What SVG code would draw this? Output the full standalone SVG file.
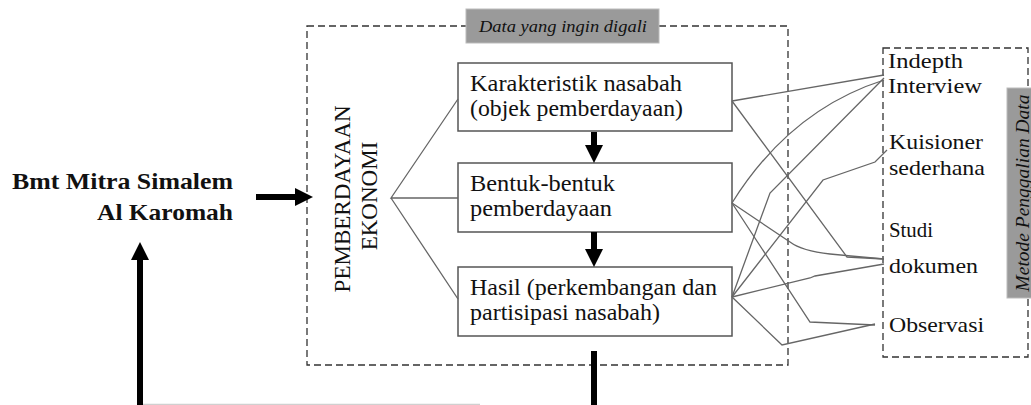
<svg xmlns="http://www.w3.org/2000/svg" width="1031" height="405" viewBox="0 0 1031 405">
<style>
  .t { font-family: 'Liberation Serif', 'Times New Roman', serif; fill: #111; }
  .r { font-size: 22px; }
  .bx { fill: #fff; stroke: #555; stroke-width: 1.5; }
  .dash { fill: none; stroke: #333; stroke-width: 1.3; stroke-dasharray: 7 4; }
  .thin { fill: none; stroke: #666; stroke-width: 1.3; }
  .thick { fill: none; stroke: #000; stroke-width: 6; }
  .gray { fill: #9a9a9a; stroke: #bbb; stroke-width: 1; }
</style>
<defs>
  <marker id="ah" viewBox="0 0 18 18" refX="1" refY="9" markerWidth="18" markerHeight="18" markerUnits="userSpaceOnUse" orient="auto">
    <path d="M0,0 L18,9 L0,18 z" fill="#000"/>
  </marker>
</defs>
<rect width="1031" height="405" fill="#fff"/>

<g id="frame-data">
  <rect class="dash" x="307" y="26" width="481" height="339"/>
  <rect class="gray" x="466" y="9" width="193" height="34"/>
  <text class="t" x="479" y="32" font-size="17" font-style="italic" textLength="168" lengthAdjust="spacingAndGlyphs">Data yang ingin digali</text>
</g>

<g id="frame-metode">
  <rect class="dash" x="883" y="48" width="145" height="309"/>
  <rect class="gray" x="1007" y="88" width="26" height="210"/>
  <text class="t" transform="translate(1029,193) rotate(-90)" text-anchor="middle" font-size="18" font-style="italic" textLength="197" lengthAdjust="spacingAndGlyphs">Metode Penggalian Data</text>
</g>

<g id="bmt">
  <text class="t" x="12" y="189" font-size="24" font-weight="bold" textLength="221" lengthAdjust="spacingAndGlyphs">Bmt Mitra Simalem</text>
  <text class="t" x="97" y="220" font-size="24" font-weight="bold" textLength="136" lengthAdjust="spacingAndGlyphs">Al Karomah</text>
</g>

<g id="pemberdayaan">
  <text class="t" transform="translate(350,196) rotate(-90)" text-anchor="middle" font-size="23">
    <tspan x="0" y="0">PEMBERDAYAAN</tspan>
    <tspan x="0" y="27">EKONOMI</tspan>
  </text>
</g>

<g id="box-karakteristik">
  <rect class="bx" x="458" y="63" width="274" height="68"/>
  <text class="t" x="470" y="91" font-size="23" textLength="212" lengthAdjust="spacingAndGlyphs">Karakteristik nasabah</text>
  <text class="t" x="470" y="116" font-size="23" textLength="213" lengthAdjust="spacingAndGlyphs">(objek pemberdayaan)</text>
</g>

<g id="box-bentuk">
  <rect class="bx" x="458" y="163" width="274" height="69"/>
  <text class="t" x="470" y="191" font-size="23" textLength="145" lengthAdjust="spacingAndGlyphs">Bentuk-bentuk</text>
  <text class="t" x="470" y="216" font-size="23" textLength="142" lengthAdjust="spacingAndGlyphs">pemberdayaan</text>
</g>

<g id="box-hasil">
  <rect class="bx" x="458" y="267" width="274" height="69"/>
  <text class="t" x="470" y="295" font-size="23" textLength="247" lengthAdjust="spacingAndGlyphs">Hasil (perkembangan dan</text>
  <text class="t" x="470" y="320" font-size="23" textLength="190" lengthAdjust="spacingAndGlyphs">partisipasi nasabah)</text>
</g>

<g id="metode-items">
  <text class="t r" x="888" y="68" textLength="75" lengthAdjust="spacingAndGlyphs">Indepth</text>
  <text class="t r" x="888" y="93" textLength="94" lengthAdjust="spacingAndGlyphs">Interview</text>
  <text class="t r" x="889" y="149" textLength="94" lengthAdjust="spacingAndGlyphs">Kuisioner</text>
  <text class="t r" x="889" y="175" textLength="96" lengthAdjust="spacingAndGlyphs">sederhana</text>
  <text class="t r" x="889" y="237" textLength="44" lengthAdjust="spacingAndGlyphs">Studi</text>
  <text class="t r" x="889" y="273" textLength="89" lengthAdjust="spacingAndGlyphs">dokumen</text>
  <text class="t r" x="889" y="332" textLength="95" lengthAdjust="spacingAndGlyphs">Observasi</text>
</g>

<g id="connectors">
  <line class="thick" x1="256" y1="197" x2="296" y2="197" marker-end="url(#ah)"/>
  <line class="thick" x1="594" y1="132" x2="594" y2="146" marker-end="url(#ah)"/>
  <line class="thick" x1="594" y1="232" x2="594" y2="250" marker-end="url(#ah)"/>
  <line class="thick" x1="140" y1="405" x2="140" y2="259" marker-end="url(#ah)"/>
  <line class="thick" x1="594" y1="351" x2="594" y2="405"/>
  <line x1="143" y1="404.5" x2="480" y2="404.5" stroke="#d0d0d0" stroke-width="1.5"/>

  <path class="thin" d="M458,99 L391,198 L458,198 M391,198 L458,299"/>

  <path class="thin" d="M732,101 L884,75"/>
  <path class="thin" d="M732,101 L847,257 L884,259"/>
  <path class="thin" d="M732,203 Q790,110 884,80"/>
  <path class="thin" d="M732,203 L790,242 Q802,251 830,254 L884,259"/>
  <path class="thin" d="M732,203 L810,322 L875,325"/>
  <path class="thin" d="M732,297 L770,193 L884,78"/>
  <path class="thin" d="M732,297 L823,180 L875,162 L887,150"/>
  <path class="thin" d="M732,297 L810,278 L815,276 L884,264"/>
  <path class="thin" d="M732,297 L782,345 L875,324"/>
</g>
</svg>
